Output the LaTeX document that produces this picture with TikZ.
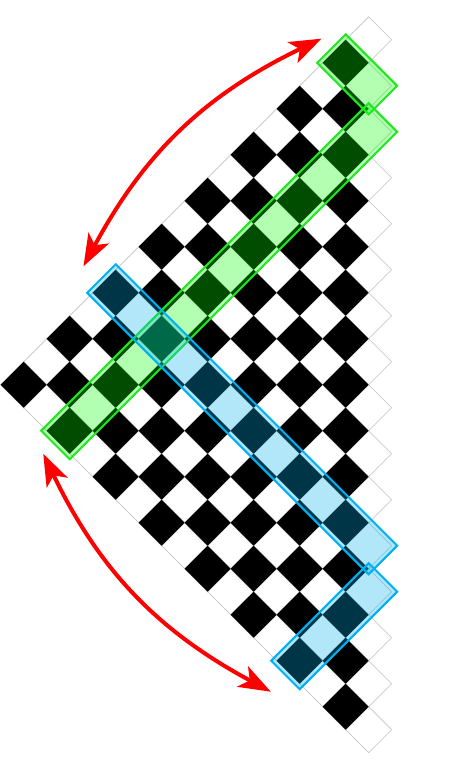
\documentclass[tikz,border=0pt]{standalone}
\usepackage{tikz}
\usetikzlibrary{arrows.meta}
\definecolor{edgegray}{HTML}{CCCCCC}
\definecolor{stripgreen}{HTML}{00FF00}
\definecolor{linegreen}{HTML}{22E622}
\definecolor{stripblue}{HTML}{00B0F0}
\definecolor{swingred}{HTML}{FF0000}
\newcommand{\stripgap}{0.24}
% strip along a diagonal: upper cell (#2,#3), lower cell (#4,#5)
\newcommand{\stripdr}[5]{\draw[#1] ({#2-1-\stripgap},#3) -- (#2,{#3+1+\stripgap}) -- ({#4+1+\stripgap},#5) -- (#4,{#5-1-\stripgap}) -- cycle;}
\newcommand{\stripdl}[5]{\draw[#1] (#2,{#3+1+\stripgap}) -- ({#2+1+\stripgap},#3) -- (#4,{#5-1-\stripgap}) -- ({#4-1-\stripgap},#5) -- cycle;}

\begin{document}
\begin{tikzpicture}[x=23pt, y=23pt, >={Stealth[length=32pt,width=23pt,inset=8pt]},
    whitecell/.style={fill=white, draw=edgegray, line width=0.8pt},
    blackcell/.style={fill=black},
    greenstrip/.style={draw=linegreen, line width=2pt, fill=stripgreen, fill opacity=0.3},
    bluestrip/.style={draw=stripblue, line width=2pt, fill=stripblue, fill opacity=0.3},
    swing/.style={<->, draw=swingred, line width=4pt, bend right=18}]
    \useasboundingbox (-1.03,-17.23) rectangle (19.19,16.73);
    % diamond cells, one column per step
    \foreach \col in {0,...,15} {
      \foreach \k in {0,...,\col} {
        \pgfmathtruncatemacro{\row}{2*\k-\col}
        \path[whitecell] ({\col-1},\row) -- (\col,{\row+1}) -- ({\col+1},\row) -- (\col,{\row-1}) -- cycle;
      }
    }
    \foreach \col in {0,2,...,14} {
      \foreach \k in {0,...,\col} {
        \pgfmathtruncatemacro{\row}{2*\k-\col}
        \path[blackcell] ({\col-1},\row) -- (\col,{\row+1}) -- ({\col+1},\row) -- (\col,{\row-1}) -- cycle;
      }
    }
    % highlighted strips
    \stripdr{greenstrip}{14}{14}{15}{13}
    \stripdl{greenstrip}{15}{11}{2}{-2}
    \stripdr{bluestrip}{4}{4}{15}{-7}
    \stripdl{bluestrip}{15}{-9}{12}{-12}
    % swing arrows
    \coordinate (upA) at (12.95,15.05);
    \coordinate (upB) at (2.6,5.15);
    \coordinate (loA) at (0.85,-3.0);
    \coordinate (loB) at (10.75,-13.35);
    \draw[swing] (upA) to (upB);
    \draw[swing] (loA) to (loB);
  \end{tikzpicture}
\end{document}
